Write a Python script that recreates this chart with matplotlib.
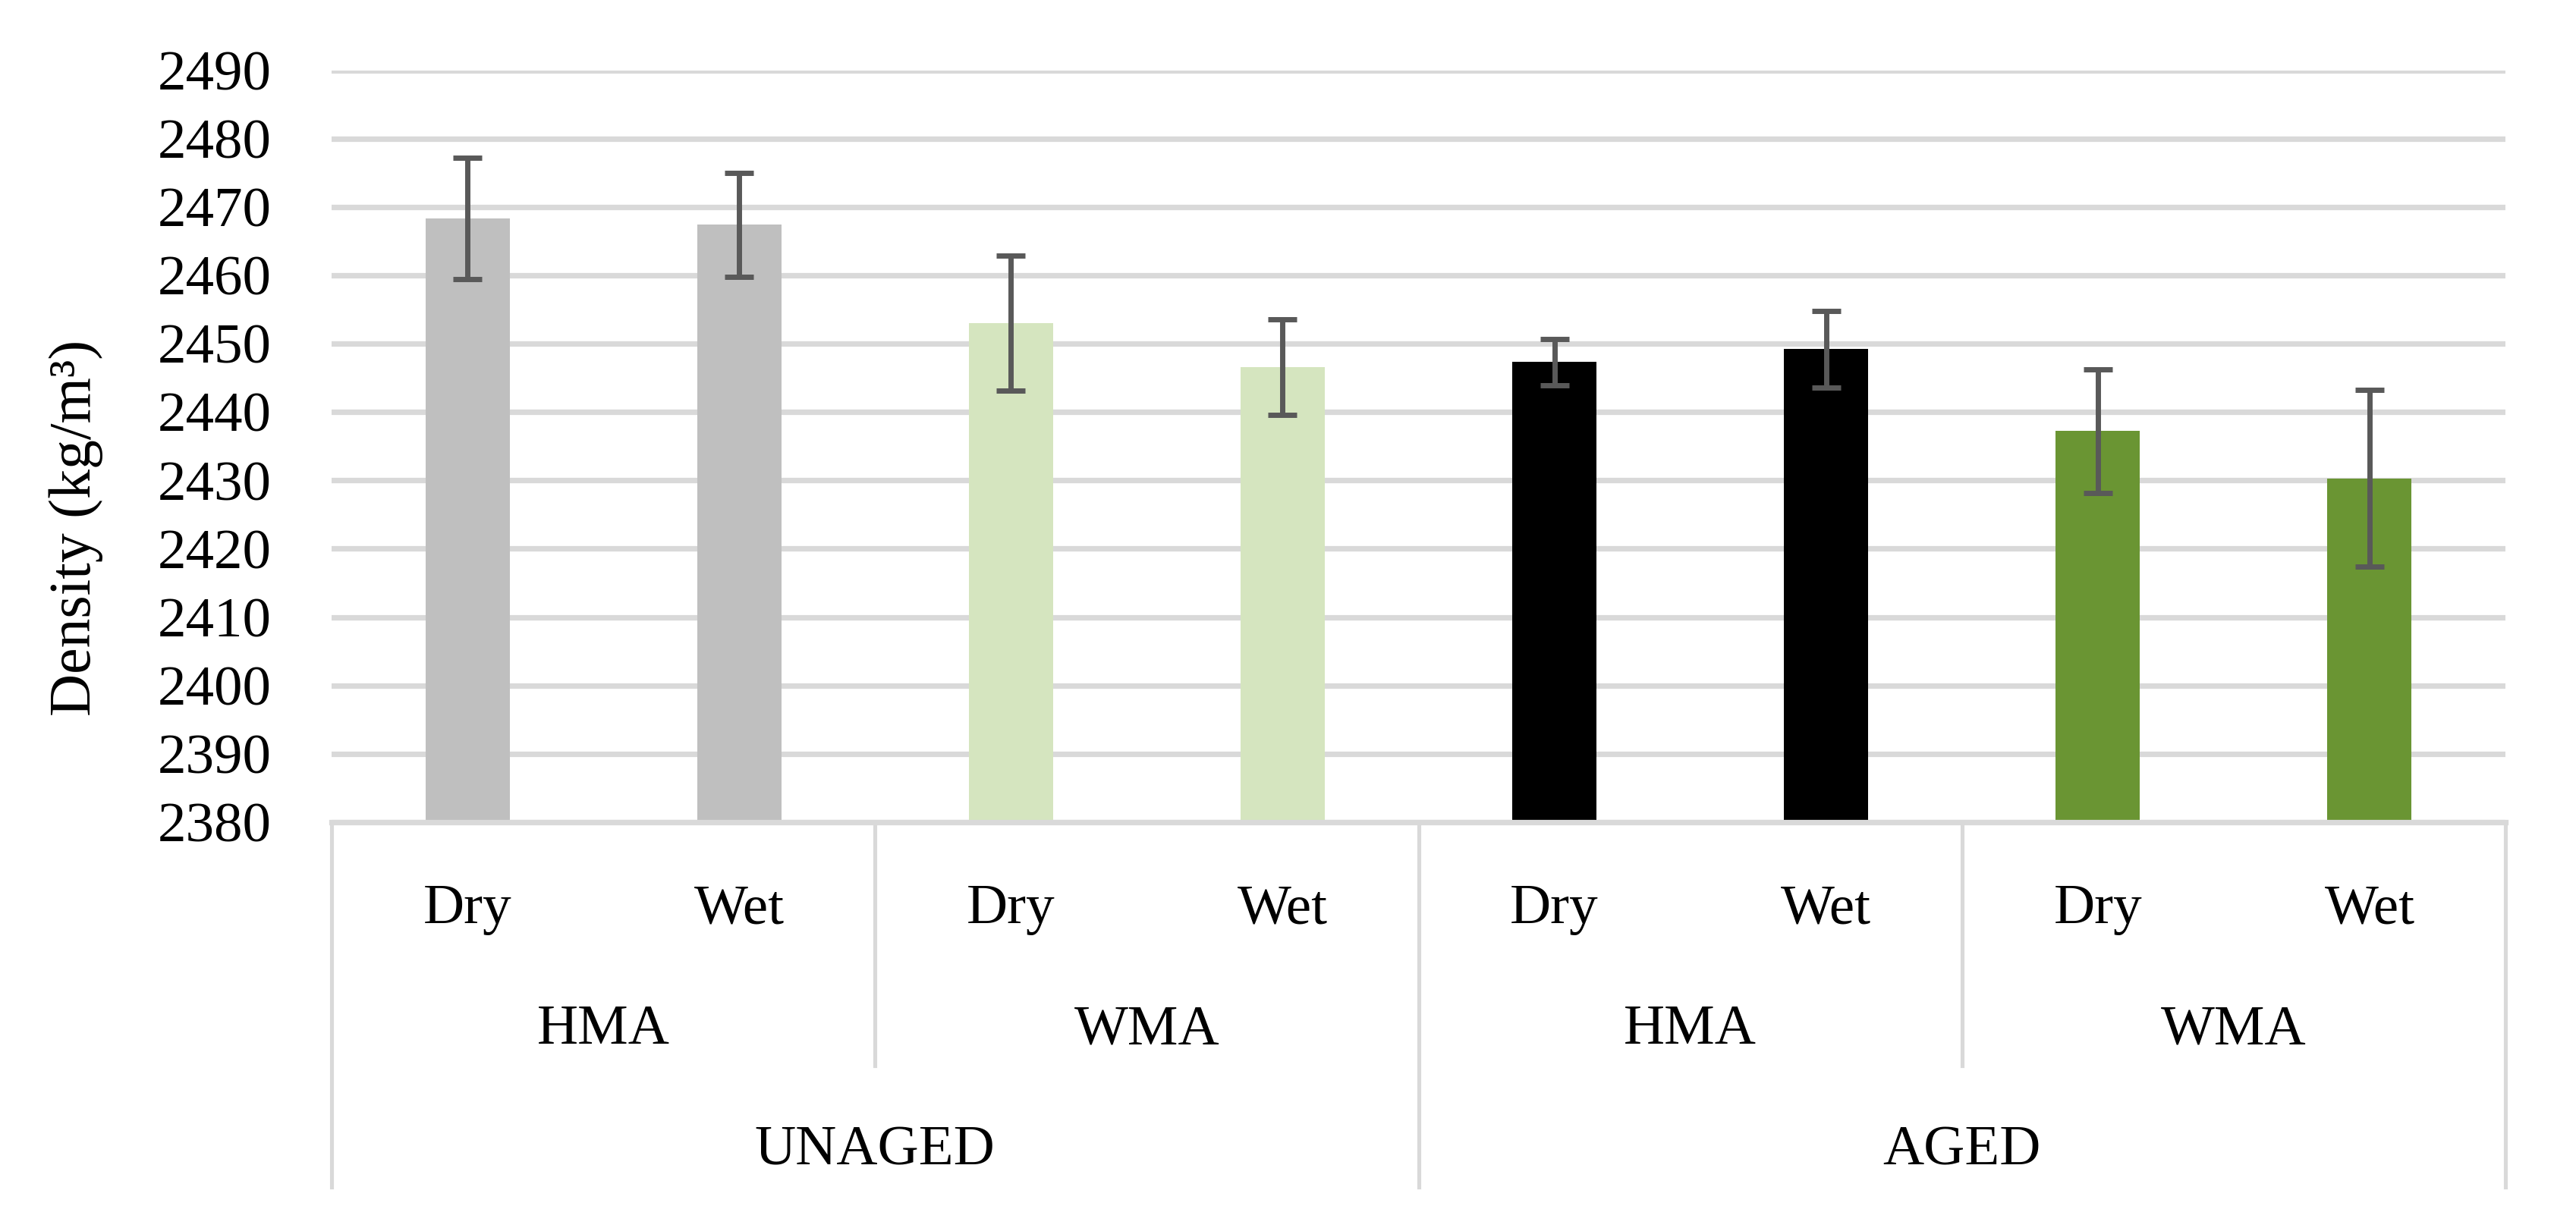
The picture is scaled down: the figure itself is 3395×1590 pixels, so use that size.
import matplotlib.pyplot as plt
import numpy as np

# --- Data ---
conditions = ['Dry', 'Wet', 'Dry', 'Wet', 'Dry', 'Wet', 'Dry', 'Wet']
mixes = ['HMA', 'WMA', 'HMA', 'WMA']
ageing = ['UNAGED', 'AGED']
density = [2468.3, 2467.4, 2453.0, 2446.6, 2447.3, 2449.2, 2437.2, 2430.3]
density_err = [8.9, 7.6, 9.9, 7.0, 3.4, 5.6, 9.0, 12.9]
bar_colors = ['#BFBFBF', '#BFBFBF', '#D5E5BF', '#D5E5BF',
              '#000000', '#000000', '#6A9533', '#6A9533']

plt.rcParams['font.family'] = ['Liberation Serif', 'DejaVu Serif']
FS = 54
GRID = '#D9D9D9'

fig = plt.figure(figsize=(33.95, 15.9), dpi=100)
ax = fig.add_axes([437 / 3395, 1 - 1084 / 1590, (3302 - 437) / 3395, (1084 - 92.6) / 1590])

x = np.arange(len(density))
ax.bar(x, density, width=0.31, color=bar_colors, zorder=2)
# capsize is half the cap length in matplotlib
ax.errorbar(x, density, yerr=density_err, fmt='none', ecolor='#595959',
            elinewidth=5, capsize=13.5, capthick=5, zorder=3)

ax.set_ylim(2380, 2490)
ax.set_xlim(-0.5, 7.5)
ax.set_yticks(np.arange(2380, 2491, 10))
ax.yaxis.grid(True, color=GRID, linewidth=5.2, zorder=0)
ax.set_axisbelow(True)
ax.tick_params(axis='y', length=0, pad=57, labelsize=FS)
ax.set_xticks([])
for side in ['top', 'right', 'left']:
    ax.spines[side].set_visible(False)
ax.spines['bottom'].set_color(GRID)
ax.spines['bottom'].set_linewidth(5.2)

fig.text(100 / 3395, 1 - 696 / 1590, 'Density (kg/m³)', rotation=90,
         ha='center', va='center', fontsize=FS + 2)

# --- Multi-level category axis ---
trans = ax.get_xaxis_transform()
for i, c in enumerate(conditions):
    ax.text(i, -0.1345, c, transform=trans, ha='center', va='baseline', fontsize=FS)
for j, m in enumerate(mixes):
    ax.text(2 * j + 0.5, -0.2946, m, transform=trans, ha='center', va='baseline', fontsize=FS)
for k, a in enumerate(ageing):
    ax.text(4 * k + 1.5, -0.4555, a, transform=trans, ha='center', va='baseline', fontsize=FS)

for xs in [-0.5, 3.5, 7.5]:
    ax.plot([xs, xs], [0, -0.485], transform=trans, color=GRID, lw=3.7, clip_on=False)
for xs in [1.5, 5.5]:
    ax.plot([xs, xs], [0, -0.324], transform=trans, color=GRID, lw=3.7, clip_on=False)

fig.savefig('out.png', dpi=100)
